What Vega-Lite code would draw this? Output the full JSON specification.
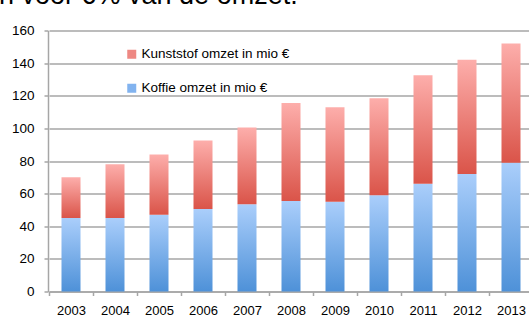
{
  "$schema": "https://vega.github.io/schema/vega-lite/v6.json",
  "width": 481,
  "height": 261,
  "autosize": {"type": "none"},
  "padding": {"left": 48, "top": 30.5, "right": 0, "bottom": 33.5},
  "background": "white",
  "title": {
    "text": "n voor 6% van de omzet.",
    "anchor": "start",
    "frame": "group",
    "dx": -49,
    "dy": 7,
    "offset": 0,
    "baseline": "alphabetic",
    "font": "Liberation Sans",
    "fontSize": 27,
    "fontWeight": "normal",
    "color": "#000000"
  },
  "data": {
    "values": [
      {"year": "2003", "series": "Koffie omzet in mio €", "value": 45},
      {"year": "2004", "series": "Koffie omzet in mio €", "value": 45},
      {"year": "2005", "series": "Koffie omzet in mio €", "value": 47},
      {"year": "2006", "series": "Koffie omzet in mio €", "value": 50.5},
      {"year": "2007", "series": "Koffie omzet in mio €", "value": 53.5},
      {"year": "2008", "series": "Koffie omzet in mio €", "value": 55.5},
      {"year": "2009", "series": "Koffie omzet in mio €", "value": 55},
      {"year": "2010", "series": "Koffie omzet in mio €", "value": 59},
      {"year": "2011", "series": "Koffie omzet in mio €", "value": 66},
      {"year": "2012", "series": "Koffie omzet in mio €", "value": 72},
      {"year": "2013", "series": "Koffie omzet in mio €", "value": 79},
      {"year": "2003", "series": "Kunststof omzet in mio €", "value": 25},
      {"year": "2004", "series": "Kunststof omzet in mio €", "value": 33},
      {"year": "2005", "series": "Kunststof omzet in mio €", "value": 37},
      {"year": "2006", "series": "Kunststof omzet in mio €", "value": 42},
      {"year": "2007", "series": "Kunststof omzet in mio €", "value": 47},
      {"year": "2008", "series": "Kunststof omzet in mio €", "value": 60},
      {"year": "2009", "series": "Kunststof omzet in mio €", "value": 58},
      {"year": "2010", "series": "Kunststof omzet in mio €", "value": 59.5},
      {"year": "2011", "series": "Kunststof omzet in mio €", "value": 66.5},
      {"year": "2012", "series": "Kunststof omzet in mio €", "value": 70},
      {"year": "2013", "series": "Kunststof omzet in mio €", "value": 73}
    ]
  },
  "transform": [
    {"stack": "value", "groupby": ["year"], "sort": [{"field": "series", "order": "ascending"}], "as": ["v0", "v1"]}
  ],
  "encoding": {
    "x": {
      "field": "year",
      "type": "ordinal",
      "scale": {"range": [1, 485], "paddingInner": 0.568, "paddingOuter": 0.284},
      "axis": {
        "title": null,
        "labelAngle": 0,
        "domainColor": "#A6A6A6",
        "domainWidth": 1.5,
        "tickColor": "#A6A6A6",
        "tickWidth": 1.5,
        "tickSize": 4,
        "tickOffset": -22,
        "labelOffset": 22,
        "labelFont": "Liberation Sans",
        "labelFontSize": 13,
        "labelColor": "#000000",
        "labelPadding": 9,
        "grid": false
      }
    },
    "y": {
      "field": "v0",
      "type": "quantitative",
      "scale": {"domain": [0, 160]},
      "axis": {
        "title": null,
        "values": [0, 20, 40, 60, 80, 100, 120, 140, 160],
        "grid": true,
        "gridColor": "#A6A6A6",
        "gridWidth": 1.5,
        "domainColor": "#A6A6A6",
        "domainWidth": 1.5,
        "tickColor": "#A6A6A6",
        "tickWidth": 1.5,
        "tickSize": 4,
        "labelFont": "Liberation Sans",
        "labelFontSize": 13.5,
        "labelColor": "#000000",
        "labelPadding": 10
      }
    },
    "y2": {"field": "v1"}
  },
  "layer": [
    {
      "transform": [{"filter": "datum.series === 'Koffie omzet in mio €'"}],
      "mark": {
        "type": "bar",
        "color": {"gradient": "linear", "x1": 0, "y1": 0, "x2": 0, "y2": 1, "stops": [{"offset": 0, "color": "#AACEFB"}, {"offset": 1, "color": "#4E91D8"}]}
      }
    },
    {
      "transform": [{"filter": "datum.series === 'Kunststof omzet in mio €'"}],
      "mark": {
        "type": "bar",
        "color": {"gradient": "linear", "x1": 0, "y1": 0, "x2": 0, "y2": 1, "stops": [{"offset": 0, "color": "#FDAEAB"}, {"offset": 1, "color": "#DA5449"}]}
      }
    },
    {
      "mark": {"type": "bar", "strokeWidth": 0},
      "encoding": {
        "y2": {"field": "v0"},
        "color": {
          "field": "series",
          "type": "nominal",
          "scale": {
            "domain": ["Kunststof omzet in mio €", "Koffie omzet in mio €"],
            "range": ["#EE8883", "#82B3EF"]
          },
          "legend": {
            "title": null,
            "orient": "none",
            "legendX": 77,
            "legendY": 17,
            "symbolType": "square",
            "symbolSize": 81,
            "symbolStrokeWidth": 0,
            "labelFont": "Liberation Sans",
            "labelFontSize": 13.5,
            "labelColor": "#000000",
            "labelOffset": 3,
            "rowPadding": 19,
            "padding": 0
          }
        }
      }
    }
  ],
  "config": {"view": {"stroke": null}}
}
